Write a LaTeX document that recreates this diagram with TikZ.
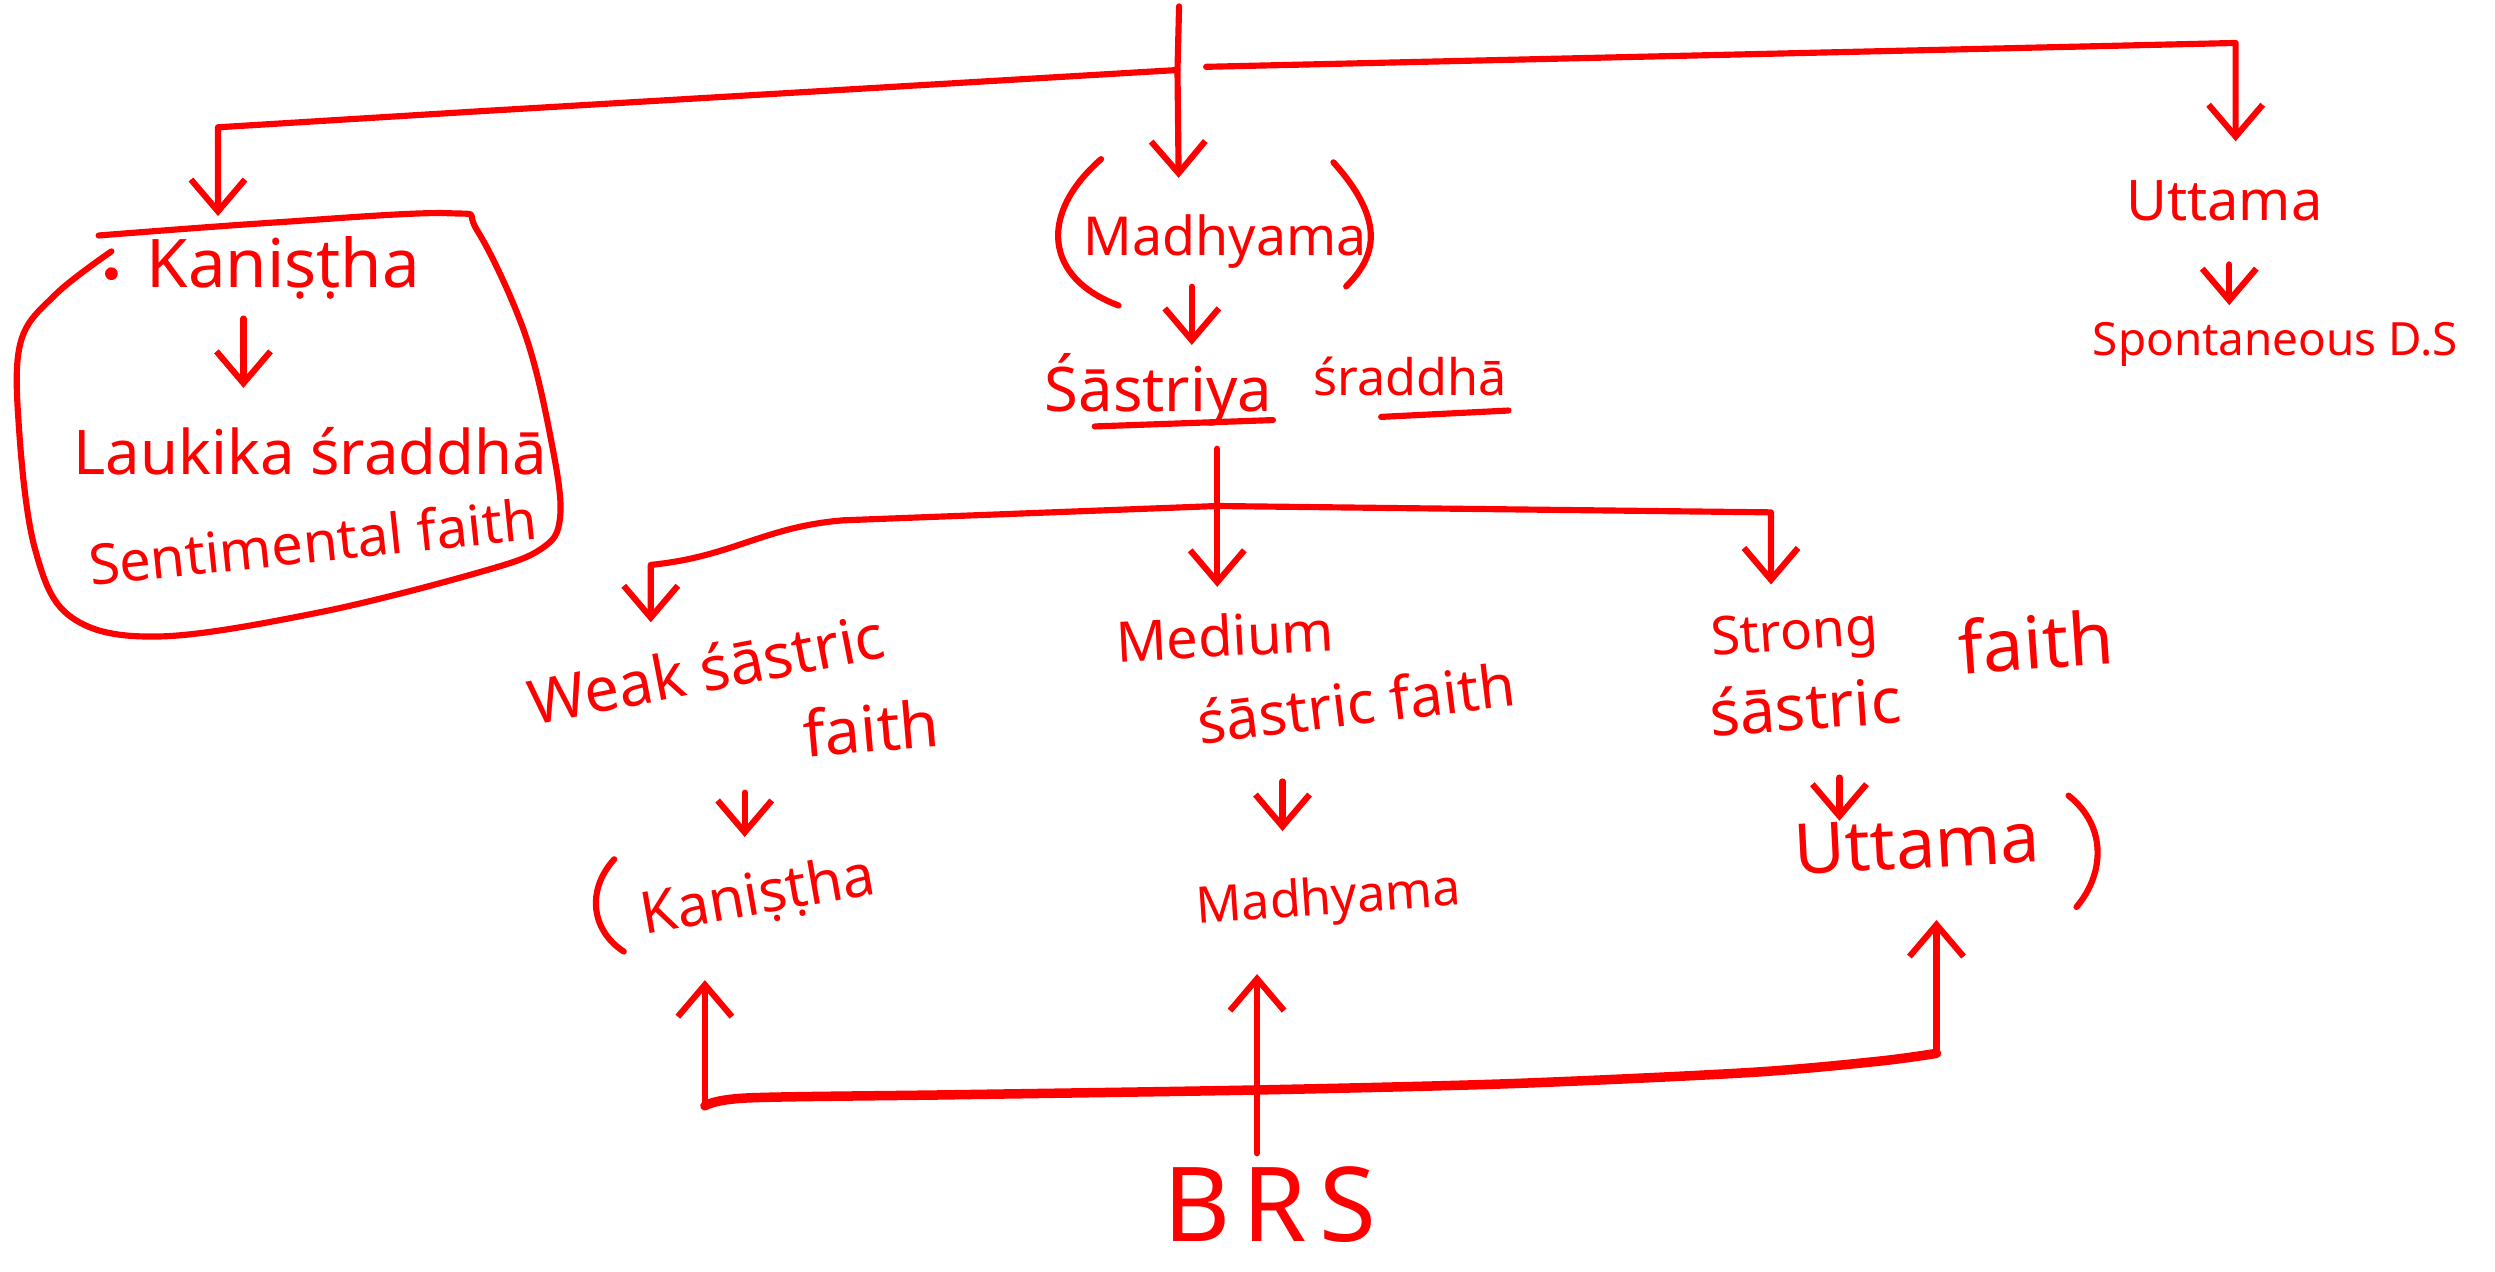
\documentclass[tikz,border=0pt]{standalone}
\usepackage{fontspec}
\setmainfont{Noto Sans}
\usetikzlibrary{arrows.meta}
\definecolor{penred}{RGB}{255,0,0}
\tikzset{
  pen/.style={draw=penred, line width=1.1pt, line cap=round, line join=round},
  arr/.style={pen, -{Straight Barb[length=2mm,width=3.4mm]}},
  word/.style={text=penred, inner sep=0pt, text height=2.4mm, text depth=0.7mm,
    font=\fontsize{#1}{#1}\selectfont},
  word/.default=11,
}
\begin{document}
\begin{tikzpicture}[x=0.1mm, y=-0.1mm]
\useasboundingbox (0,0) rectangle (1568,799);

% top level
\coordinate (root) at (741,4);
\coordinate (rootj) at (740,44);
\coordinate (rootr) at (758,42);
\coordinate (kanbend) at (300,70);
\coordinate (kancorner) at (137,80);
\coordinate (uttcorner) at (1405,27);
\node[word=12] (kanT) at (178,172) {Kaniṣṭha};
\node[word=11] (lauk) at (195,290) {Laukika śraddhā};
\node[word=10, rotate=6] (senti) at (197,345) {Sentimental faith};
\node[word=9.6] (madT) at (770,152) {Madhyama};
\node[word=11] (sastr) at (728,250) {Śāstriya};
\node[word=9] (sraddha) at (886,240) {śraddhā};
\node[word=10] (uttT) at (1398,130) {Uttama};
\node[word=8.2] (spont) at (1430,215) {Spontaneous D.S};

\draw[arr, shorten >=2.4mm] (root) -- (rootj) -- (root |- madT.north);
\draw[arr, shorten >=2mm] (rootj) -- (kanbend) -- (kancorner) -- (kancorner |- kanT.north);
\draw[arr, shorten >=2.5mm] (rootr) -- (uttcorner) -- (uttcorner |- uttT.north);

% lanes for the short arrows
\coordinate (kanA) at (153,0);
\coordinate (madA) at (749,0);
\coordinate (uttA) at (1401,0);
\draw[arr, shorten <=1.2mm, shorten >=3mm] (kanA |- kanT.south) -- (kanA |- lauk.north);
\draw[arr, shorten <=1.2mm, shorten >=1.7mm] (madA |- madT.south) -- (madA |- sastr.north);
\draw[arr, shorten <=2mm, shorten >=0.7mm] (uttA |- uttT.south) -- (uttA |- spont.north);

% ring round the first group
\draw[pen] plot[smooth, tension=0.6] coordinates {(62,148) (170,140) (282,134) (300,145)
  (330,210) (347,280) (352,325) (340,345) (300,360) (200,385) (100,400) (45,388)
  (22,345) (12,270) (13,215) (35,185) (70,158)};
\fill[penred] (70,172) circle (4);

% brackets and underlines
\draw[pen] (692,100) .. controls (652,135) and (657,175) .. (703,192);
\draw[pen] (838,102) .. controls (872,140) and (864,162) .. (846,180);
\draw[pen] (688,268) -- (800,264);
\draw[pen] (868,262) -- (948,258);

% middle level
\coordinate (midtop) at (765,282);
\coordinate (midj) at (765,318);
\coordinate (weakcorner) at (409,355);
\coordinate (strcorner) at (1113,322);
\node[word=11, rotate=11] (weak) at (445,426) {Weak śāstric};
\node[word=11.4, rotate=5] (weakf) at (548,464) {faith};
\node[word=10, rotate=3] (medium) at (770,404) {Medium};
\node[word=10.5, rotate=7] (medf) at (853,447) {śāstric faith};
\node[word=9.5, rotate=4] (strong) at (1128,400) {Strong};
\node[word=11.3, rotate=4] (strs) at (1135,450) {śāstric};
\node[word=13, rotate=4] (strf) at (1280,412) {faith};

\draw[arr, shorten >=1.9mm] (midtop) -- (midj) -- (midj |- medium.north);
\draw[arr, shorten >=1.9mm] (midj) -- (530,327) .. controls (480,331) and (460,350) .. (weakcorner)
  -- (weakcorner |- weak.north);
\draw[arr, shorten >=1.65mm] (midj) -- (strcorner) -- (strcorner |- strong.north);

% bottom level
\node[word=10.4, rotate=10] (kan2) at (477,566) {Kaniṣṭha};
\node[word=9, rotate=4] (mad2) at (835,566) {Madhyama};
\node[word=12.5, rotate=3] (utt2) at (1205,537) {Uttama};
\draw[pen] (386,540) .. controls (368,560) and (372,585) .. (392,598);
\draw[pen] (1300,500) .. controls (1325,520) and (1322,550) .. (1305,570);

\coordinate (weakA) at (468,0);
\coordinate (medA) at (806,0);
\coordinate (strA) at (1156,0);
\draw[arr, shorten <=1.8mm, shorten >=2.4mm] (weakA |- weakf.south) -- (weakA |- kan2.north);
\draw[arr, shorten <=2.8mm, shorten >=2.75mm] (medA |- medf.south) -- (medA |- mad2.north);
\draw[arr, shorten <=2.25mm, shorten >=0.5mm] (strA |- strs.south) -- (strA |- utt2.north);

% BRS
\node[text=penred, inner sep=0pt, text height=5.3mm, text depth=0mm,
  font=\fontsize{18.5}{18.5}\selectfont\addfontfeatures{LetterSpace=12}] (brs) at (798,754) {BRS};
\coordinate (brsA) at (790,0);
\coordinate (bl) at (443,695);
\coordinate (bj) at (790,685);
\coordinate (br) at (1217,662);
\draw[pen, line width=1.7pt] plot[smooth, tension=0.5] coordinates {(bl) (470,690)
  (600,688) (bj) (950,681) (1100,674) (1180,667) (br)};
\draw[arr, shorten <=0.2mm, shorten >=3mm] (brsA |- brs.north) -- (brsA |- mad2.south);
\draw[arr, shorten >=3.4mm] (bl) -- (bl |- kan2.south);
\draw[arr, shorten >=2.5mm] (br) -- (br |- utt2.south);
\end{tikzpicture}
\end{document}
